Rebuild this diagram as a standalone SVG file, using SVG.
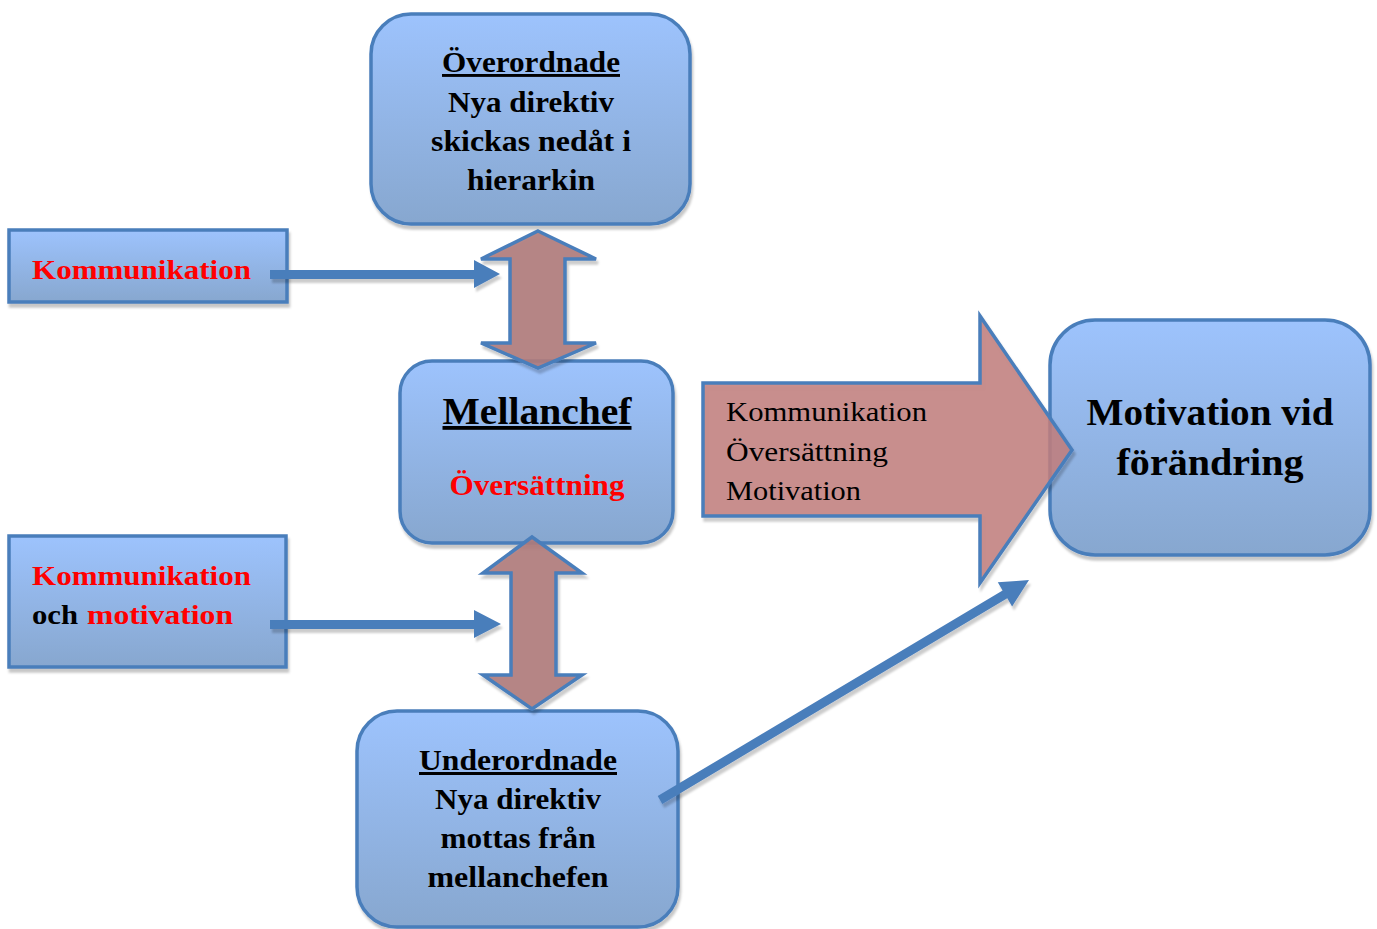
<svg xmlns="http://www.w3.org/2000/svg" width="1377" height="929" viewBox="0 0 1377 929">
<defs>
<linearGradient id="boxGrad" x1="0" y1="0" x2="0" y2="1">
<stop offset="0" stop-color="#9dc3fd"/>
<stop offset="1" stop-color="#87a7cf"/>
</linearGradient>
<filter id="shadow" x="-10%" y="-10%" width="130%" height="130%">
<feDropShadow dx="1.5" dy="4" stdDeviation="1.2" flood-color="#000" flood-opacity="0.22"/>
</filter>
<filter id="ashadow" x="-10%" y="-10%" width="130%" height="130%">
<feDropShadow dx="2" dy="4" stdDeviation="1" flood-color="#000" flood-opacity="0.2"/>
</filter>
</defs>
<style>
.box{fill:url(#boxGrad);stroke:#4a7ebb;stroke-width:3.5;filter:url(#shadow)}
.t{font-family:"Liberation Serif","DejaVu Serif",serif;font-weight:bold;fill:#000}
.c{text-anchor:middle}
.red{fill:#ff0000}
.u{text-decoration:underline}
.reg{font-family:"Liberation Serif","DejaVu Serif",serif;font-weight:normal;fill:#000;font-size:27px}
.blue{fill:#4a7ebb;filter:url(#ashadow)}
.dbl{fill:#b07b7b;fill-opacity:0.9;stroke:#4a7ebb;stroke-width:3.5;stroke-linejoin:miter;filter:url(#ashadow)}
.big{fill:#c27f7e;fill-opacity:0.85;stroke:#4a7ebb;stroke-width:3.5;filter:url(#ashadow)}
</style>
<rect width="1377" height="929" fill="#ffffff"/>

<g id="node-overordnade">
<rect class="box" x="371" y="14" width="319" height="210" rx="40"/>
<text class="t c u" x="531" y="72" font-size="29" textLength="178" lengthAdjust="spacingAndGlyphs">Överordnade</text>
<text class="t c" x="531" y="112" font-size="29" textLength="166" lengthAdjust="spacingAndGlyphs">Nya direktiv</text>
<text class="t c" x="531" y="151" font-size="29" textLength="200" lengthAdjust="spacingAndGlyphs">skickas nedåt i</text>
<text class="t c" x="531" y="190" font-size="29" textLength="128" lengthAdjust="spacingAndGlyphs">hierarkin</text>
</g>

<g id="node-kommunikation">
<rect class="box" x="9" y="230" width="278" height="72" rx="0"/>
<text class="t red" x="32" y="279" font-size="28" textLength="219" lengthAdjust="spacingAndGlyphs">Kommunikation</text>
</g>

<g id="node-mellanchef">
<rect class="box" x="400" y="361" width="273" height="182" rx="32"/>
<text class="t c u" x="537" y="424" font-size="38" textLength="189" lengthAdjust="spacingAndGlyphs">Mellanchef</text>
<text class="t c red" x="537" y="495" font-size="29" textLength="175" lengthAdjust="spacingAndGlyphs">Översättning</text>
</g>

<g id="node-kommunikation-motivation">
<rect class="box" x="9" y="536" width="277" height="131" rx="0"/>
<text class="t red" x="32" y="585" font-size="28" textLength="219" lengthAdjust="spacingAndGlyphs">Kommunikation</text>
<text class="t" x="32" y="624" font-size="28"><tspan textLength="46" lengthAdjust="spacingAndGlyphs">och</tspan><tspan class="red" x="87" textLength="146" lengthAdjust="spacingAndGlyphs">motivation</tspan></text>
</g>

<g id="node-underordnade">
<rect class="box" x="357" y="711" width="321" height="216" rx="40"/>
<text class="t c u" x="518" y="770" font-size="30" textLength="198" lengthAdjust="spacingAndGlyphs">Underordnade</text>
<text class="t c" x="518" y="809" font-size="30" textLength="166" lengthAdjust="spacingAndGlyphs">Nya direktiv</text>
<text class="t c" x="518" y="848" font-size="30" textLength="155" lengthAdjust="spacingAndGlyphs">mottas från</text>
<text class="t c" x="518" y="887" font-size="30" textLength="181" lengthAdjust="spacingAndGlyphs">mellanchefen</text>
</g>

<g id="node-motivation">
<rect class="box" x="1050" y="320" width="320" height="235" rx="45"/>
<text class="t c" x="1210" y="425" font-size="37" textLength="247" lengthAdjust="spacingAndGlyphs">Motivation vid</text>
<text class="t c" x="1210" y="475" font-size="37" textLength="187" lengthAdjust="spacingAndGlyphs">förändring</text>
</g>

<g id="node-big-arrow">
<polygon class="big" points="703,383 980,383 980,316 1072,450 980,583 980,516 703,516"/>
<text class="reg" x="726" y="421" textLength="201" lengthAdjust="spacingAndGlyphs">Kommunikation</text>
<text class="reg" x="726" y="461" textLength="162" lengthAdjust="spacingAndGlyphs">Översättning</text>
<text class="reg" x="726" y="500" textLength="135" lengthAdjust="spacingAndGlyphs">Motivation</text>
</g>

<g id="connectors">
<polygon class="blue" points="270,270 474,270 474,260 500,274 474,288 474,279 270,279"/>
<polygon class="blue" points="270,620 474,620 474,610 501,624 474,638 474,629 270,629"/>
<polygon class="blue" points="662.3,803.9 1007.3,598.2 1012.1,606.4 1029,580 997.8,582.3 1002.6,590.5 657.7,796.1"/>
<polygon class="dbl" points="538,231 596,259 565,259 565,343 596,343 538,368 481,343 510,343 510,259 481,259"/>
<polygon class="dbl" points="532,537 582,573 556,573 556,675 582,675 532,709 483,675 511,675 511,573 483,573"/>
</g>
</svg>
